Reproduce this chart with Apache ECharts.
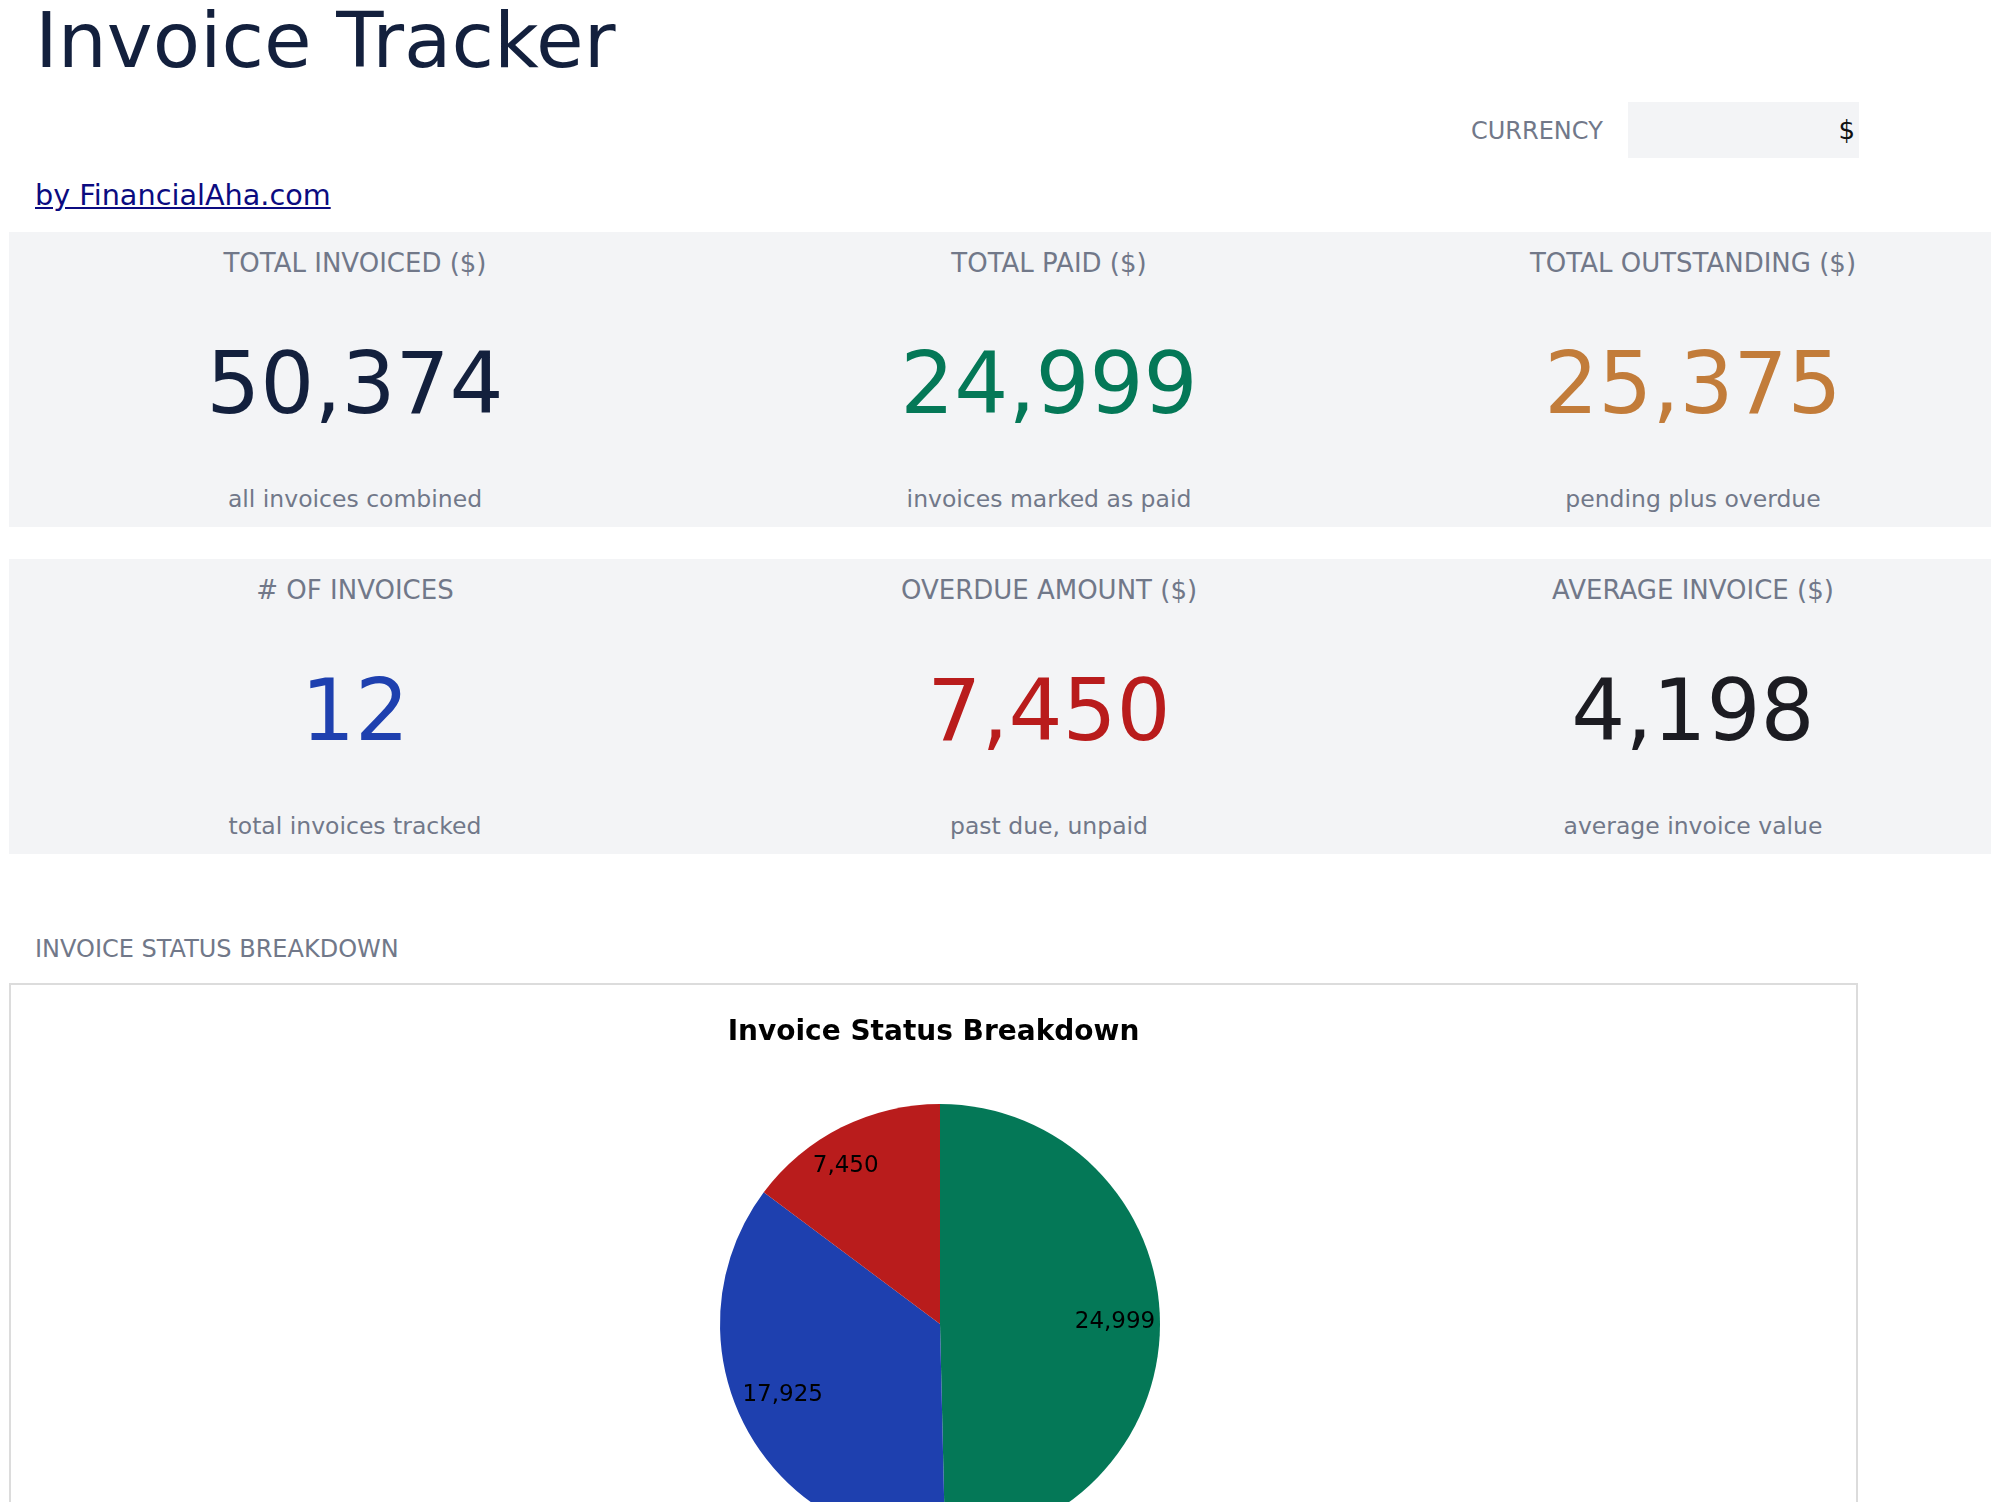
<!DOCTYPE html>
<html>
<head>
<meta charset="utf-8">
<script src="https://cdn.jsdelivr.net/npm/echarts@6/dist/echarts.min.js"></script>
<style>
  html, body { margin:0; padding:0; width:2000px; height:1502px; overflow:hidden; background:#fff; }
  body { font-family:"DejaVu Sans", sans-serif; position:relative; }
  .abs { position:absolute; white-space:nowrap; }
  #title { left:35px; top:2px; font-size:77.4px; line-height:77px; color:#13203d; }
  #link { left:35px; top:181px; font-size:28.7px; line-height:29px; color:#0b0b80; text-decoration:underline; }
  #curLabel { left:1471px; top:119px; font-size:24px; line-height:24px; color:#717889; }
  #curBox { left:1628px; top:102px; width:231px; height:56px; background:#f3f4f6; }
  #curVal { left:1600px; width:255px; top:117px; font-size:26px; line-height:26px; color:#111; text-align:right; }
  .row { position:absolute; left:9px; width:1982px; height:295px; background:#f3f4f6; }
  .kl, .kv, .ks { position:absolute; width:700px; text-align:center; white-space:nowrap; }
  .kl { top:18px; font-size:26px; line-height:26px; color:#717889; }
  .kv { top:109px; font-size:85px; line-height:85px; }
  .ks { top:255px; font-size:23.5px; line-height:24px; color:#717889; }
  #section { left:35px; top:937px; font-size:24px; line-height:24px; color:#717889; }
  #frame { position:absolute; left:9px; top:983px; width:1849px; height:800px; border:2px solid #dcdcdc; box-sizing:border-box; background:#fff; }
  #chart { width:1845px; height:796px; }
</style>
</head>
<body>
<div id="title" class="abs">Invoice Tracker</div>
<div id="curLabel" class="abs">CURRENCY</div>
<div id="curBox" class="abs"></div>
<div id="curVal" class="abs">$</div>
<div id="link" class="abs">by FinancialAha.com</div>
<div id="row1" class="row" style="top:232px"></div>
<div id="row2" class="row" style="top:559px"></div>
<div id="section" class="abs">INVOICE STATUS BREAKDOWN</div>
<div id="frame"><div id="chart"></div></div>
<script>
// ---- data ----
const kpiLabels = ["TOTAL INVOICED ($)", "TOTAL PAID ($)", "TOTAL OUTSTANDING ($)",
                   "# OF INVOICES", "OVERDUE AMOUNT ($)", "AVERAGE INVOICE ($)"];
const kpiValues = [50374, 24999, 25375, 12, 7450, 4198];
const kpiSubs = ["all invoices combined", "invoices marked as paid", "pending plus overdue",
                 "total invoices tracked", "past due, unpaid", "average invoice value"];
const statusNames = ["Paid", "Pending", "Overdue"];
const statusValues = [24999, 17925, 7450];

// ---- styles ----
const kpiColors = ["#13203d", "#047857", "#c27c3a", "#1e40af", "#b91c1c", "#1c1c22"];
const colCenters = [355, 1049, 1693];
const sliceColors = ["#047857", "#1e40af", "#b91c1c"];
const labelPads = [[0,4,0,0], [0,0,0,0], [0,30,0,0]];
const labelLift = [false, true, false];

const fmt = v => Number(v).toLocaleString('en-US');

['row1','row2'].forEach((id, r) => {
  const row = document.getElementById(id);
  for (let c = 0; c < 3; c++) {
    const i = r * 3 + c;
    const left = (colCenters[c] - 9 - 350) + 'px';
    const l = document.createElement('div'); l.className = 'kl'; l.style.left = left; l.textContent = kpiLabels[i];
    const v = document.createElement('div'); v.className = 'kv'; v.style.left = left; v.style.color = kpiColors[i]; v.textContent = fmt(kpiValues[i]);
    const s = document.createElement('div'); s.className = 'ks'; s.style.left = left; s.textContent = kpiSubs[i];
    row.appendChild(l); row.appendChild(v); row.appendChild(s);
  }
});

const chart = echarts.init(document.getElementById('chart'), null, { renderer: 'canvas' });
const pieData = statusNames.map((n, i) => ({ name: n, value: statusValues[i], itemStyle: { color: sliceColors[i] } }));
const labelData = statusNames.map((n, i) => ({ name: n, value: statusValues[i], label: { padding: labelPads[i] } }));
chart.setOption({
  animation: false,
  textStyle: { fontFamily: 'DejaVu Sans' },
  title: {
    text: 'Invoice Status Breakdown',
    left: 'center',
    top: 29,
    textStyle: { fontFamily: 'DejaVu Sans', fontWeight: 'bold', fontSize: 28, color: '#000' }
  },
  series: [
    {
      type: 'pie',
      center: [929, 339],
      radius: [0, 220],
      startAngle: 90,
      clockwise: true,
      silent: true,
      label: { show: false },
      labelLine: { show: false },
      itemStyle: { borderWidth: 0 },
      data: pieData
    },
    {
      type: 'pie',
      center: [929, 339],
      radius: [128, 220],
      startAngle: 90,
      clockwise: true,
      silent: true,
      itemStyle: { color: 'rgba(0,0,0,0)', borderWidth: 0 },
      label: {
        show: true,
        position: 'inside',
        color: '#000',
        fontFamily: 'DejaVu Sans',
        fontSize: 23,
        formatter: p => labelLift[p.dataIndex] ? '{v|' + fmt(p.value) + '}\n{s| }' : '{v|' + fmt(p.value) + '}',
        rich: {
          v: { fontFamily: 'DejaVu Sans', fontSize: 23, color: '#000', lineHeight: 27 },
          s: { fontSize: 1, lineHeight: 20 }
        }
      },
      labelLine: { show: false },
      data: labelData
    }
  ]
});
</script>
</body>
</html>
